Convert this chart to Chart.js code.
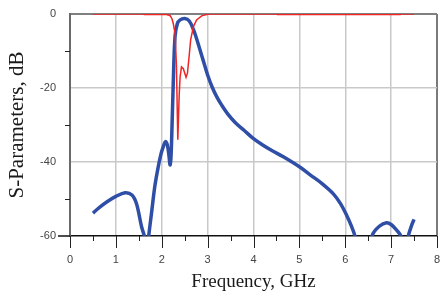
<!DOCTYPE html>
<html><head><meta charset="utf-8">
<script src="https://cdn.jsdelivr.net/npm/chart.js@4/dist/chart.umd.min.js"></script>
<style>html,body{margin:0;padding:0;background:#fff;overflow:hidden}canvas{display:block}</style>
</head><body>
<canvas id="c" width="443" height="297"></canvas>
<script>
// S21 (transmission), blue
const freqS21 = [0.5,0.65,0.8,1.0,1.2,1.35,1.45,1.56,1.63,1.67,1.71,1.78,1.85,1.92,1.98,2.03,2.08,2.12,2.16,2.18,2.2,2.22,2.25,2.29,2.34,2.4,2.5,2.6,2.7,2.8,2.9,3.0,3.1,3.2,3.3,3.45,3.6,3.8,4.0,4.2,4.4,4.65,5.0,5.25,5.5,5.74,5.9,6.03,6.13,6.21,6.4,6.59,6.75,6.9,7.0,7.12,7.22,7.3,7.37,7.45,7.5];
const dbS21   = [-53.8,-52.2,-50.8,-49.3,-48.3,-48.9,-51.3,-57.5,-60.5,-65,-60.5,-53.5,-46.5,-41.5,-38,-36,-34.5,-35.3,-38.6,-40.8,-39,-32,-19,-6,-2.6,-1.6,-1.2,-1.9,-4.5,-8.3,-12.4,-16.5,-19.8,-22.4,-24.5,-27.2,-29.3,-31.5,-33.7,-35.4,-36.9,-38.6,-41.3,-43.6,-45.9,-48.6,-51.3,-54.4,-57.2,-60,-72,-59.8,-57.3,-56.4,-56.9,-58.4,-60.2,-65,-60.2,-57,-55.5];
// S11 (reflection), red
const freqS11 = [0.5,1.6,1.62,2.1,2.18,2.22,2.25,2.29,2.32,2.35,2.38,2.40,2.43,2.47,2.53,2.56,2.6,2.63,2.69,2.76,2.87,2.98,3.05,4.5,4.52,7.2,7.22,7.5];
const dbS11   = [0,0,-0.15,-0.15,-0.4,-1.2,-2.5,-5.2,-14,-34,-22,-17,-14.3,-14.8,-17.1,-16,-11,-7,-3.4,-1.6,-0.5,-0.15,0,0,-0.15,-0.15,0,0];
// axis tick labels
const xTickLabels = [0,1,2,3,4,5,6,7,8];
const yTickLabels = [0,-20,-40,-60];
const xTitle = 'Frequency, GHz';
const yTitle = 'S-Parameters, dB';

const toPts = (xs, ys) => xs.map((x, i) => ({x, y: ys[i]}));

const tickPlugin = {
  id: 'ticks',
  afterDraw(chart) {
    const {ctx, chartArea: a, scales: {x, y}} = chart;
    ctx.save();
    ctx.strokeStyle = '#222';
    ctx.lineWidth = 1;
    ctx.beginPath();
    for (let v = 0; v <= 8.001; v += 0.5) {
      const px = Math.round(x.getPixelForValue(v)) + 0.5;
      const len = Number.isInteger(v) ? 12 : 5;
      ctx.moveTo(px, a.bottom);
      ctx.lineTo(px, a.bottom + len);
    }
    for (let v = -50; v <= -10; v += 20) {
      const py = Math.round(y.getPixelForValue(v)) + 0.5;
      ctx.moveTo(a.left - 5, py);
      ctx.lineTo(a.left, py);
    }
    ctx.stroke();
    ctx.lineWidth = 1.5;
    ctx.strokeStyle = '#111';
    ctx.beginPath();
    ctx.moveTo(a.left - 12, a.bottom);
    ctx.lineTo(a.left, a.bottom);
    ctx.stroke();
    ctx.restore();
  }
};

new Chart(document.getElementById('c'), {
  type: 'line',
  data: {
    datasets: [
      {label: 'S11', data: toPts(freqS11, dbS11), borderColor: '#f02424', borderWidth: 1.5,
       pointRadius: 0, tension: 0, order: 0},
      {label: 'S21', data: toPts(freqS21, dbS21), borderColor: '#2f4ea6', borderWidth: 3.5,
       pointRadius: 0, tension: 0.35, order: 1}
    ]
  },
  options: {
    responsive: false,
    devicePixelRatio: 1,
    animation: false,
    events: [],
    layout: {padding: {top: 14, right: 6, left: 0, bottom: 0}},
    plugins: {legend: {display: false}, tooltip: {enabled: false}},
    scales: {
      x: {
        type: 'linear', min: 0, max: 8,
        afterFit: s => { s.height = 61; s.paddingLeft = 0; s.paddingRight = 0; },
        afterBuildTicks: s => { s.ticks = []; for (let v = 0; v <= 8; v += 0.5) s.ticks.push({value: v}); },
        ticks: {
          autoSkip: false, maxRotation: 0, padding: 17, color: '#444',
          font: {family: 'Liberation Sans', size: 11},
          callback: v => xTickLabels.includes(v) ? String(v) : ''
        },
        grid: {
          drawTicks: false,
          color: c => { const v = c.tick && c.tick.value; if (v === 8) return '#7a7a7a'; return (Number.isInteger(v) && v > 0 && v < 8) ? '#c9c9c9' : 'rgba(0,0,0,0)'; },
          lineWidth: c => (c.tick && c.tick.value === 8) ? 2 : 1.5
        },
        border: {display: true, color: '#111', width: 1.5},
        title: {display: true, text: xTitle, color: '#1a1a1a', padding: {top: 0, bottom: 4},
                font: {family: 'Liberation Serif', size: 19}}
      },
      y: {
        type: 'linear', min: -60, max: 0,
        afterFit: s => { s.width = 70; s.paddingTop = 0; s.paddingBottom = 0; },
        afterBuildTicks: s => { s.ticks = []; for (let v = -60; v <= 0; v += 10) s.ticks.push({value: v}); },
        ticks: {
          autoSkip: false, padding: 14, color: '#444',
          font: {family: 'Liberation Sans', size: 11},
          callback: v => yTickLabels.includes(v) ? String(v) : ''
        },
        grid: {
          drawTicks: false,
          color: c => { const v = c.tick && c.tick.value; if (v === 0) return '#808080'; return (v === -20 || v === -40) ? '#c9c9c9' : 'rgba(0,0,0,0)'; },
          lineWidth: c => (c.tick && c.tick.value === 0) ? 2 : 1.5
        },
        border: {display: true, color: '#6a6a6a', width: 2},
        title: {display: true, text: yTitle, color: '#1a1a1a', padding: {top: 5, bottom: 0},
                font: {family: 'Liberation Serif', size: 21}}
      }
    }
  },
  plugins: [tickPlugin]
});
</script>
</body></html>
